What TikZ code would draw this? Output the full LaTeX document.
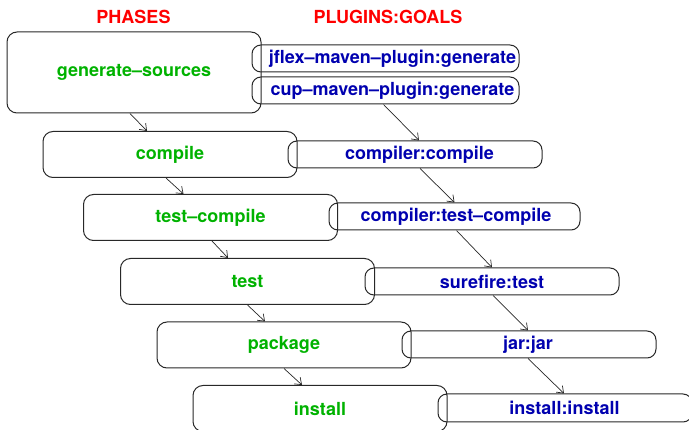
\documentclass[tikz,border=0pt]{standalone}
\usepackage{fontspec}
\setmainfont{TeX Gyre Heros}
\usetikzlibrary{arrows.meta}
\definecolor{phgreen}{RGB}{0,178,0}
\definecolor{plblue}{RGB}{0,0,175}
\definecolor{hdred}{RGB}{255,0,0}
\definecolor{edge}{RGB}{40,40,40}
\tikzset{
  lbl/.style={font=\fontsize{18}{20}\selectfont\bfseries, inner sep=0pt},
  phase/.style={draw=edge, line width=1pt, rounded corners=10pt, minimum width=254pt,
                minimum height=46pt, inner sep=0pt, lbl, text=phgreen},
  pbox/.style={draw=edge, line width=1pt, rounded corners=9pt, minimum width=254pt,
               minimum height=27pt, inner sep=0pt},
  ptext/.style={lbl, text=plblue},
  head/.style={lbl, text=hdred},
  flow/.style={draw=edge, line width=0.7pt, -{Straight Barb[length=6pt,width=9pt,line width=0.7pt]}}
}
\begin{document}
\begin{tikzpicture}[x=1pt,y=-1pt]
\useasboundingbox (0,0) rectangle (689,430);
\clip (0,0) rectangle (689,430);
% headers
\node[head] (hph) at (133.5,17) {PHASES};
\node[head] (hpl) at (388,17) {PLUGINS:GOALS};
% phases
\node[phase, minimum height=81pt] (gs) at (134,72.5) {generate--sources};
\node[phase] (cp) at (170,154.5) {compile};
\node[phase] (tc) at (210.5,217.5) {test--compile};
\node[phase] (ts) at (247.5,281.5) {test};
\node[phase] (pk) at (284,345) {package};
\node[phase] (in) at (320,408.5) {install};
% plugin goals
\node[pbox, minimum width=267pt, label={[ptext,xshift=7pt]center:jflex--maven--plugin:generate}] (jf) at (385.5,58.5) {};
\node[pbox, minimum width=267pt, label={[ptext,xshift=7pt]center:cup--maven--plugin:generate}] (cup) at (385.5,90.5) {};
\node[pbox, label={[ptext,xshift=4.5pt]center:compiler:compile}] (cc) at (415,154.5) {};
\node[pbox, minimum width=251pt, label={[ptext,xshift=1.5pt]center:compiler:test--compile}] (ctc) at (454.5,216.5) {};
\node[pbox, label={[ptext]center:surefire:test}] (sf) at (492,281.5) {};
\node[pbox, label={[ptext,xshift=-1pt]center:jar:jar}] (jar) at (529,344.5) {};
\node[pbox, minimum height=28pt, label={[ptext,xshift=-0.5pt]center:install:install}] (ii) at (565,408) {};
% phase flow
\draw[flow] ([xshift=-4pt]gs.south) -- ([xshift=-23pt]cp.north);
\draw[flow] ([xshift=-4pt]cp.south) -- ([xshift=-27pt]tc.north);
\draw[flow] ([xshift=1.5pt]tc.south) -- ([xshift=-19.5pt]ts.north);
\draw[flow] (ts.south) -- ([xshift=-19pt]pk.north);
\draw[flow] (pk.south) -- ([xshift=-18pt]in.north);
% goal flow
\draw[flow] ([xshift=-2pt]cup.south) -- ([xshift=4pt]cc.north);
\draw[flow] ([xshift=5pt]cc.south) -- (ctc.north);
\draw[flow] ([xshift=2pt]ctc.south) -- (sf.north);
\draw[flow] ([xshift=1pt]sf.south) -- ([xshift=-1pt]jar.north);
\draw[flow] ([xshift=-1pt]jar.south) -- ([xshift=-1pt]ii.north);
\end{tikzpicture}
\end{document}
